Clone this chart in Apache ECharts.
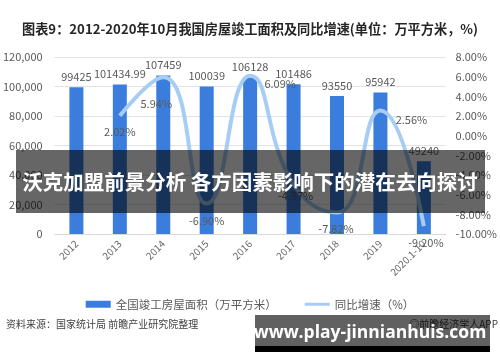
<!DOCTYPE html>
<html><head><meta charset="utf-8">
<script src="https://cdn.jsdelivr.net/npm/echarts@6/dist/echarts.min.js"></script>
<style>html,body{margin:0;padding:0;background:#fff}#c{width:500px;height:362px}</style>
</head><body><div id="c"></div>
<script>
const categories = ['2012','2013','2014','2015','2016','2017','2018','2019','2020.1-10'];
const areaValues = [99425, 101434.99, 107459, 100039, 106128, 101486, 93550, 95942, 49240];
const growthValues = [null, 2.02, 5.94, -6.90, 6.09, -4.97, -7.82, 2.56, -9.20];
const leftTicks = {min: 0, max: 120000, interval: 20000};
const rightTicks = {min: -10, max: 8, interval: 2};
const seriesNames = ['全国竣工房屋面积（万平方米）', '同比增速（%）'];
const titleText = '图表9：2012-2020年10月我国房屋竣工面积及同比增速(单位：万平方米，%)';
const sourceText = '资料来源：国家统计局 前瞻产业研究院整理';
const bannerText = '沃克加盟前景分析 各方因素影响下的潜在去向探讨';
const watermarkText = 'www.play-jinnianhuis.com';
const appText = '◎前瞻经济学人APP';
// label offsets (style, not data)
const lineLabelOffsets = [[0,0],[0,16],[-7,27],[0,17],[30,8],[2,11],[-1,16],[31,9],[2,17]];

const font = '"Noto Sans CJK SC", "Noto Sans", sans-serif';
const chart = echarts.init(document.getElementById('c'), null, {renderer: 'canvas'});
chart.setOption({
  animation: false,
  textStyle: {fontFamily: font},
  title: {
    text: titleText, left: 'center', top: 17,
    textStyle: {fontSize: 13.2, fontWeight: 'bold', color: '#262626', fontFamily: font}
  },
  grid: {left: 52, right: 54, top: 57, bottom: 128},
  legend: {
    bottom: 47, left: 'center', itemGap: 28, itemWidth: 25, itemHeight: 7,
    textStyle: {fontSize: 11.5, color: '#595959'},
    data: [
      {name: seriesNames[0], icon: 'rect'},
      {name: seriesNames[1], icon: 'path://M0,0 L25,0 L25,3 L0,3 Z', itemStyle: {color: '#A8CDF5'}}
    ]
  },
  xAxis: {
    type: 'category', data: categories,
    axisLine: {lineStyle: {color: '#D9D9D9'}},
    axisTick: {show: false},
    axisLabel: {rotate: 45, fontSize: 10, color: '#6a6a6a', margin: 8, interval: 0}
  },
  yAxis: [
    {type: 'value', min: leftTicks.min, max: leftTicks.max, interval: leftTicks.interval,
     axisLabel: {fontSize: 11, color: '#595959', margin: 12},
     splitLine: {lineStyle: {color: '#E3E3E3'}}, axisLine: {show: false}, axisTick: {show: false}},
    {type: 'value', min: rightTicks.min, max: rightTicks.max, interval: rightTicks.interval,
     axisLabel: {fontSize: 11, color: '#595959', margin: 10, formatter: v => v.toFixed(2) + '%'},
     splitLine: {show: false}, axisLine: {show: false}, axisTick: {show: false}}
  ],
  series: [
    {
      name: seriesNames[0], type: 'bar', data: areaValues, barWidth: 14,
      itemStyle: {color: '#3B7DDD'},
      label: {show: true, position: 'top', distance: 5, fontSize: 11, color: '#595959'}
    },
    {
      name: seriesNames[1], type: 'line', yAxisIndex: 1, smooth: 0.5,
      data: growthValues.map((v, i) => ({
        value: v,
        label: {offset: lineLabelOffsets[i]}
      })),
      connectNulls: false,
      showSymbol: true, symbol: 'circle', symbolSize: 1,
      itemStyle: {color: 'rgba(168,205,245,0)'},
      lineStyle: {color: '#A8CDF5', width: 4},
      label: {show: true, position: 'inside', fontSize: 11, color: '#595959',
              formatter: p => p.value == null ? '' : p.value.toFixed(2) + '%'},
      z: 3
    }
  ],
  graphic: [
    {type: 'text', left: 6, top: 319, style: {text: sourceText, fontSize: 10, fill: '#404040', fontFamily: font}},
    {type: 'text', right: 2, top: 319, style: {text: appText, fontSize: 10, fill: '#404040', fontFamily: font}},
    {type: 'rect', shape: {x: 16, y: 150, width: 469, height: 63}, style: {fill: 'rgba(0,0,0,0.6)'}, z: 100},
    {type: 'text', x: 250, y: 182, z: 101,
     style: {text: bannerText, fontSize: 20.5, fontWeight: 'bold', fill: '#fff', align: 'center', verticalAlign: 'middle', fontFamily: font}},
    {type: 'rect', shape: {x: 255, y: 315, width: 235, height: 37}, style: {fill: 'rgba(0,0,0,0.62)'}, z: 100},
    {type: 'rect', shape: {x: 255, y: 346, width: 235, height: 6}, style: {fill: '#000'}, z: 100},
    {type: 'text', x: 370, y: 333, z: 101,
     style: {text: watermarkText, fontSize: 17.5, fontWeight: 'bold', fill: '#fff', align: 'center', verticalAlign: 'middle', fontFamily: '"Open Sans", "DejaVu Sans", sans-serif'}}
  ]
});
</script></body></html>
